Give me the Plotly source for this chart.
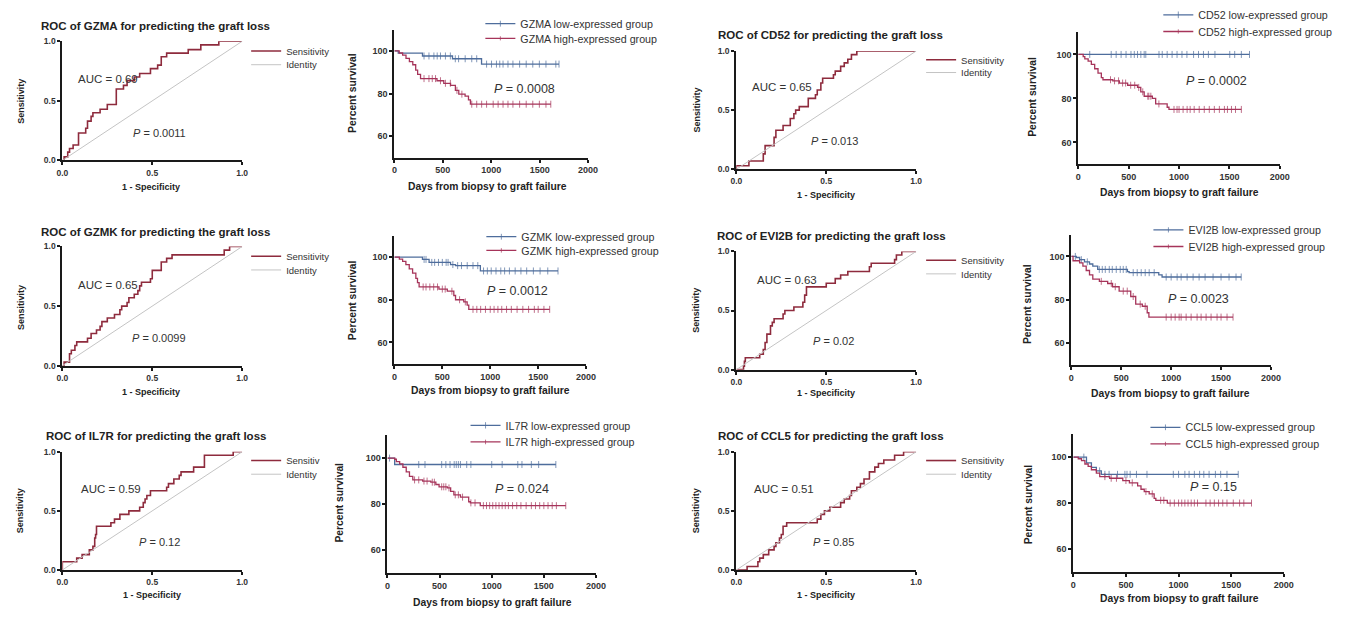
import numpy as np
import plotly.graph_objects as go

W, H = 1362, 618
FONT = "Arial, 'Liberation Sans', sans-serif"

genes = ["GZMA", "CD52", "GZMK", "EVI2B", "IL7R", "CCL5"]
auc_text = ["0.69", "0.65", "0.65", "0.63", "0.59", "0.51"]
roc_p_text = ["0.0011", "0.013", "0.0099", "0.02", "0.12", "0.85"]
km_p_text = ["0.0008", "0.0002", "0.0012", "0.0023", "0.024", "0.15"]
roc_legend_names = ["Sensitivity", "Sensitivity", "Sensitivity", "Sensitivity", "Sensitiv", "Sensitivity"]

# ---------------- ROC step curves (1 - specificity, sensitivity) ----------------
roc_fpr_GZMA = [0, 0.01, 0.03, 0.04, 0.06, 0.09, 0.13, 0.14, 0.16, 0.17, 0.21, 0.25, 0.30, 0.34, 0.36, 0.40, 0.43, 0.49, 0.53, 0.55, 0.58, 0.70, 0.77, 0.87, 1.0]
roc_tpr_GZMA = [0, 0.03, 0.07, 0.10, 0.13, 0.23, 0.27, 0.33, 0.37, 0.40, 0.43, 0.47, 0.60, 0.63, 0.67, 0.70, 0.73, 0.77, 0.80, 0.87, 0.90, 0.93, 0.97, 1.0, 1.0]

roc_fpr_CD52 = [0, 0.0, 0.07, 0.15, 0.16, 0.21, 0.22, 0.26, 0.30, 0.32, 0.33, 0.35, 0.40, 0.44, 0.45, 0.47, 0.48, 0.54, 0.55, 0.58, 0.60, 0.62, 0.64, 0.67, 1.0]
roc_tpr_CD52 = [0, 0.03, 0.07, 0.13, 0.20, 0.27, 0.33, 0.37, 0.43, 0.47, 0.50, 0.53, 0.60, 0.63, 0.67, 0.73, 0.77, 0.80, 0.83, 0.87, 0.90, 0.93, 0.97, 1.0, 1.0]

roc_fpr_GZMK = [0, 0.01, 0.04, 0.05, 0.07, 0.08, 0.14, 0.16, 0.19, 0.21, 0.22, 0.25, 0.29, 0.32, 0.33, 0.36, 0.37, 0.40, 0.42, 0.43, 0.44, 0.49, 0.50, 0.55, 0.58, 0.61, 0.90, 0.93, 1.0]
roc_tpr_GZMK = [0, 0.03, 0.10, 0.13, 0.17, 0.20, 0.23, 0.27, 0.30, 0.33, 0.37, 0.40, 0.43, 0.47, 0.50, 0.53, 0.57, 0.60, 0.63, 0.67, 0.70, 0.73, 0.80, 0.87, 0.90, 0.93, 0.97, 1.0, 1.0]

roc_fpr_EVI2B = [0, 0.04, 0.045, 0.05, 0.13, 0.15, 0.16, 0.17, 0.19, 0.20, 0.21, 0.26, 0.27, 0.32, 0.37, 0.38, 0.39, 0.50, 0.55, 0.58, 0.62, 0.74, 0.75, 0.88, 0.89, 0.92, 1.0]
roc_tpr_EVI2B = [0, 0.03, 0.07, 0.10, 0.13, 0.17, 0.23, 0.30, 0.37, 0.40, 0.43, 0.47, 0.50, 0.53, 0.57, 0.63, 0.70, 0.73, 0.77, 0.80, 0.83, 0.87, 0.90, 0.93, 0.97, 1.0, 1.0]

roc_fpr_IL7R = [0, 0.0, 0.08, 0.11, 0.15, 0.17, 0.18, 0.185, 0.19, 0.27, 0.29, 0.32, 0.37, 0.43, 0.45, 0.46, 0.47, 0.49, 0.58, 0.59, 0.62, 0.65, 0.66, 0.73, 0.79, 0.95, 1.0]
roc_tpr_IL7R = [0, 0.07, 0.10, 0.13, 0.17, 0.20, 0.27, 0.30, 0.37, 0.40, 0.43, 0.47, 0.50, 0.53, 0.57, 0.60, 0.63, 0.67, 0.70, 0.73, 0.77, 0.80, 0.83, 0.87, 0.97, 1.0, 1.0]

roc_fpr_CCL5 = [0, 0.06, 0.12, 0.13, 0.15, 0.18, 0.21, 0.22, 0.24, 0.25, 0.26, 0.28, 0.45, 0.47, 0.49, 0.52, 0.58, 0.60, 0.63, 0.64, 0.67, 0.69, 0.71, 0.74, 0.77, 0.79, 0.82, 0.88, 0.93, 1.0]
roc_tpr_CCL5 = [0, 0.03, 0.07, 0.10, 0.13, 0.17, 0.20, 0.23, 0.27, 0.30, 0.37, 0.40, 0.43, 0.47, 0.50, 0.53, 0.57, 0.60, 0.63, 0.67, 0.70, 0.73, 0.77, 0.83, 0.87, 0.90, 0.93, 0.97, 1.0, 1.0]

# ---------------- Kaplan-Meier: event times, survival after event, censor times ----------------
km_low_t_GZMA = [0, 40, 290, 600, 900]
km_low_s_GZMA = [100, 98.9, 97.6, 96.3, 93.8]
km_low_c_GZMA = [306, 357, 408, 442, 476, 527, 578, 629, 663, 731, 799, 850, 952, 1003, 1054, 1088, 1122, 1173, 1224, 1293, 1361, 1429, 1497, 1565, 1667, 1700]
km_high_t_GZMA = [0, 50, 85, 120, 155, 190, 220, 240, 270, 440, 510, 580, 630, 665, 730, 765, 785]
km_high_s_GZMA = [100, 99, 98, 96.5, 95, 93.5, 91, 89, 87, 86, 84.8, 83.8, 81.5, 79.7, 78.8, 77, 75]
km_high_c_GZMA = [306, 357, 391, 425, 476, 527, 578, 646, 697, 799, 850, 901, 952, 1020, 1071, 1122, 1173, 1224, 1293, 1361, 1429, 1497, 1565, 1615]

km_low_t_CD52 = [0]
km_low_s_CD52 = [100]
km_low_c_CD52 = [114, 327, 376, 425, 474, 523, 556, 588, 621, 654, 670, 801, 833, 882, 931, 980, 1029, 1078, 1144, 1193, 1242, 1291, 1356, 1503, 1552, 1618, 1699]
km_high_t_CD52 = [0, 49, 65, 98, 130, 163, 196, 229, 245, 343, 408, 490, 588, 620, 654, 735, 768, 882, 900]
km_high_s_CD52 = [100, 99, 98, 97, 95.5, 93.5, 91.5, 89.5, 88.5, 88, 87, 86, 85, 83, 81, 80, 77.5, 76, 75]
km_high_c_CD52 = [320, 360, 400, 440, 470, 520, 560, 600, 640, 690, 700, 720, 800, 950, 980, 1000, 1040, 1080, 1110, 1150, 1200, 1250, 1300, 1350, 1400, 1450, 1480, 1520, 1560, 1618]

km_low_t_GZMK = [0, 293, 362, 586, 638, 897]
km_low_s_GZMK = [100, 98.9, 97.5, 96.5, 96, 93.5]
km_low_c_GZMK = [310, 330, 390, 420, 460, 500, 540, 560, 610, 660, 700, 760, 820, 870, 930, 970, 1010, 1060, 1110, 1150, 1200, 1260, 1320, 1380, 1450, 1520, 1600, 1707]
km_high_t_GZMK = [0, 52, 86, 120, 155, 190, 224, 241, 258, 465, 552, 620, 638, 724, 759, 776]
km_high_s_GZMK = [100, 99, 98, 96.5, 94.5, 92.5, 90, 88, 86, 85, 84, 82, 80, 79, 77.5, 75.5]
km_high_c_GZMK = [300, 330, 370, 410, 450, 500, 530, 600, 680, 740, 820, 860, 900, 950, 1000, 1040, 1080, 1120, 1170, 1220, 1280, 1340, 1400, 1460, 1500, 1560, 1620]

km_low_t_EVI2B = [0, 50, 83, 132, 182, 215, 264, 562, 579, 876, 909]
km_low_s_EVI2B = [100, 99.5, 98.5, 97.5, 96.5, 95.5, 94, 93, 92.5, 91.5, 90.5]
km_low_c_EVI2B = [40, 100, 160, 280, 310, 340, 380, 410, 450, 490, 520, 550, 620, 660, 700, 740, 780, 830, 950, 1000, 1060, 1100, 1160, 1220, 1280, 1340, 1420, 1500, 1580, 1650, 1702]
km_high_t_EVI2B = [0, 17, 83, 116, 149, 182, 215, 281, 364, 413, 479, 595, 645, 711, 760, 777]
km_high_s_EVI2B = [100, 98, 97, 95.5, 93.5, 91.5, 89.5, 88.5, 87.5, 86, 84, 81.5, 78, 77, 74, 72]
km_high_c_EVI2B = [300, 400, 440, 520, 560, 620, 690, 740, 950, 1000, 1040, 1080, 1100, 1150, 1200, 1260, 1300, 1350, 1400, 1460, 1500, 1560, 1620]

km_low_t_IL7R = [0, 69]
km_low_s_IL7R = [100, 97.2]
km_low_c_IL7R = [20, 300, 360, 520, 560, 600, 640, 660, 680, 700, 760, 800, 1000, 1100, 1250, 1290, 1380, 1450, 1615]
km_high_t_IL7R = [0, 69, 85, 117, 148, 180, 211, 243, 338, 416, 464, 495, 574, 606, 637, 700, 779, 795, 890]
km_high_s_IL7R = [100, 99.5, 98.5, 97.5, 96, 94, 92, 90.5, 90, 89.5, 88.5, 87.5, 87, 85.5, 84, 83, 81, 80.5, 79.3]
km_high_c_IL7R = [260, 300, 350, 380, 430, 450, 520, 540, 560, 590, 650, 680, 720, 800, 840, 920, 950, 980, 1010, 1040, 1070, 1100, 1130, 1160, 1200, 1240, 1280, 1330, 1380, 1420, 1460, 1500, 1540, 1580, 1620, 1710]

km_low_t_CCL5 = [0, 125, 172, 219, 266]
km_low_s_CCL5 = [100, 97.5, 95.5, 94, 92.5]
km_low_c_CCL5 = [100, 250, 300, 340, 420, 490, 510, 540, 600, 700, 950, 1000, 1060, 1100, 1150, 1200, 1240, 1290, 1350, 1400, 1460, 1567]
km_high_t_CCL5 = [0, 47, 78, 110, 141, 172, 219, 251, 345, 470, 533, 611, 643, 674, 721, 768, 784, 893]
km_high_s_CCL5 = [100, 99.3, 98.5, 97, 96, 94.5, 93, 91.5, 90.8, 89.8, 88.8, 87.5, 86, 85, 84, 82, 81.2, 80]
km_high_c_CCL5 = [300, 360, 410, 500, 560, 690, 750, 830, 860, 920, 960, 1000, 1030, 1060, 1090, 1120, 1150, 1180, 1260, 1300, 1340, 1380, 1420, 1460, 1520, 1580, 1620, 1693]

roc_data = {
    "GZMA": (roc_fpr_GZMA, roc_tpr_GZMA), "CD52": (roc_fpr_CD52, roc_tpr_CD52),
    "GZMK": (roc_fpr_GZMK, roc_tpr_GZMK), "EVI2B": (roc_fpr_EVI2B, roc_tpr_EVI2B),
    "IL7R": (roc_fpr_IL7R, roc_tpr_IL7R), "CCL5": (roc_fpr_CCL5, roc_tpr_CCL5),
}
km_data = {
    "GZMA": ((km_low_t_GZMA, km_low_s_GZMA, km_low_c_GZMA), (km_high_t_GZMA, km_high_s_GZMA, km_high_c_GZMA)),
    "CD52": ((km_low_t_CD52, km_low_s_CD52, km_low_c_CD52), (km_high_t_CD52, km_high_s_CD52, km_high_c_CD52)),
    "GZMK": ((km_low_t_GZMK, km_low_s_GZMK, km_low_c_GZMK), (km_high_t_GZMK, km_high_s_GZMK, km_high_c_GZMK)),
    "EVI2B": ((km_low_t_EVI2B, km_low_s_EVI2B, km_low_c_EVI2B), (km_high_t_EVI2B, km_high_s_EVI2B, km_high_c_EVI2B)),
    "IL7R": ((km_low_t_IL7R, km_low_s_IL7R, km_low_c_IL7R), (km_high_t_IL7R, km_high_s_IL7R, km_high_c_IL7R)),
    "CCL5": ((km_low_t_CCL5, km_low_s_CCL5, km_low_c_CCL5), (km_high_t_CCL5, km_high_s_CCL5, km_high_c_CCL5)),
}

# ---------------- layout geometry (page pixels) ----------------
geom = {
    "GZMA": dict(roc=(57, 239, 33, 155), km=(393, 589, 21, 152),
                 title=(33, 17), rxt=(147, 182), ryt=(15, 94), kxt=(487, 182), kyt=(350, 86),
                 auc=(103, 72), rp=(155, 127), kp=(525, 82),
                 rleg=(285, 43, 57), kleg=(522, 15, 30)),
    "CD52": dict(roc=(739, 921, 43, 164), km=(1085, 1289, 24, 159),
                 title=(718, 27), rxt=(830, 190), ryt=(699, 103), kxt=(1187, 188), kyt=(1039, 90),
                 auc=(785, 80), rp=(838, 135), kp=(1225, 74),
                 rleg=(968, 52, 65), kleg=(1208, 6, 23)),
    "GZMK": dict(roc=(57, 239, 243, 365), km=(393, 587, 232, 363),
                 title=(33, 228), rxt=(147, 392), ryt=(15, 305), kxt=(490, 390), kyt=(350, 298),
                 auc=(103, 282), rp=(155, 337), kp=(518, 289),
                 rleg=(285, 253, 267), kleg=(523, 233, 247)),
    "EVI2B": dict(roc=(739, 921, 248, 369), km=(1078, 1280, 231, 364),
                  title=(717, 232), rxt=(830, 393), ryt=(698, 308), kxt=(1178, 393), kyt=(1033, 302),
                  auc=(790, 277), rp=(837, 340), kp=(1207, 297),
                  rleg=(968, 257, 271), kleg=(1198, 226, 243)),
    "IL7R": dict(roc=(57, 239, 453, 574), km=(386, 597, 436, 577),
                 title=(38, 437), rxt=(148, 600), ryt=(15, 513), kxt=(492, 607), kyt=(338, 505),
                 auc=(106, 491), rp=(155, 545), kp=(522, 491),
                 rleg=(285, 462, 476), kleg=(507, 426, 443)),
    "CCL5": dict(roc=(739, 921, 453, 574), km=(1080, 1293, 435, 576),
                 title=(718, 437), rxt=(830, 600), ryt=(699, 513), kxt=(1187, 603), kyt=(1035, 507),
                 auc=(787, 491), rp=(837, 545), kp=(1222, 489),
                 rleg=(968, 462, 476), kleg=(1195, 428, 445)),
}

ROC_COLOR = "#8e2b3d"
ID_COLOR = "#c4c4c4"
LOW_COLOR = "#4e6d9c"
HIGH_COLOR = "#a6345a"
TXT = "#2a2a2a"


def fx(px):
    return px / W


def fy(py):
    return 1 - py / H


def km_path(times, surv, cens):
    times = np.asarray(times, float)
    surv = np.asarray(surv, float)
    pts = [(t, s, 0) for t, s in zip(times, surv)]
    for c in cens:
        idx = np.searchsorted(times, c, side="right") - 1
        pts.append((float(c), float(surv[idx]), 1))
    pts.sort(key=lambda p: (p[0], p[2]))
    xs = [p[0] for p in pts]
    ys = [p[1] for p in pts]
    sz = [5 if p[2] else 0 for p in pts]
    return xs, ys, sz


fig = go.Figure()
layout = dict(
    width=W, height=H, margin=dict(l=0, r=0, t=0, b=0), showlegend=True,
    paper_bgcolor="white", plot_bgcolor="white",
    font=dict(family=FONT, color=TXT),
)
annotations = []

axis_common = dict(
    showgrid=False, zeroline=False, showline=True, linecolor="#1a1a1a", linewidth=2,
    ticks="outside", ticklen=3, tickwidth=1.5, tickcolor="#1a1a1a",
    tickfont=dict(family=FONT, size=8.5, color="#333", weight="bold"),
    fixedrange=True,
)


def legend_name(n):
    return "legend" if n == 1 else "legend%d" % n


def add_legend(n, text_x, y_center, size):
    layout[legend_name(n)] = dict(
        x=fx(text_x - 42), y=fy(y_center), xanchor="left", yanchor="middle", xref="paper", yref="paper",
        bgcolor="rgba(0,0,0,0)", font=dict(family=FONT, size=size, color="#333"),
        itemwidth=30, tracegroupgap=0, borderwidth=0, visible=True)


def add_text(text, pos, size, bold=False, angle=0, anchor="center"):
    tx, ty = pos
    annotations.append(dict(text=text, x=fx(tx), y=fy(ty), xref="paper", yref="paper",
                            xanchor=anchor, yanchor="middle", textangle=angle, showarrow=False,
                            font=dict(family=FONT, size=size, color="#222" if bold else "#333",
                                      weight="bold" if bold else "normal")))


for gi, g in enumerate(genes):
    G = geom[g]
    ra = 2 * gi + 1
    ka = 2 * gi + 2
    rsuf = "" if ra == 1 else str(ra)
    ksuf = str(ka)
    l0 = 4 * gi

    # ROC panel
    fpr, tpr = roc_data[g]
    fig.add_trace(go.Scatter(x=fpr, y=tpr, mode="lines", line=dict(color=ROC_COLOR, width=1.6, shape="hv"),
                             name=roc_legend_names[gi], xaxis="x" + rsuf, yaxis="y" + rsuf,
                             legend=legend_name(l0 + 1), showlegend=True, hoverinfo="skip"))
    fig.add_trace(go.Scatter(x=[0, 1], y=[0, 1], mode="lines", line=dict(color=ID_COLOR, width=1),
                             name="Identity", xaxis="x" + rsuf, yaxis="y" + rsuf,
                             legend=legend_name(l0 + 2), showlegend=True, hoverinfo="skip"))
    x0, x1, yt, yb = G["roc"]
    layout["xaxis" + rsuf] = dict(axis_common, domain=[fx(x0), fx(x1)], range=[0, 1], anchor="y" + rsuf,
                                  tickvals=[0, 0.5, 1.0], ticktext=["0.0", "0.5", "1.0"])
    layout["yaxis" + rsuf] = dict(axis_common, domain=[fy(yb), fy(yt)], range=[0, 1], anchor="x" + rsuf,
                                  tickvals=[0, 0.5, 1.0], ticktext=["0.0", "0.5", "1.0"])

    # KM panel
    (lt, ls, lc), (ht, hs, hc) = km_data[g]
    for k, ((t, s, c), col, lab) in enumerate((((lt, ls, lc), LOW_COLOR, "low"),
                                               ((ht, hs, hc), HIGH_COLOR, "high"))):
        xs, ys, sz = km_path(t, s, c)
        fig.add_trace(go.Scatter(x=xs, y=ys, mode="lines+markers",
                                 line=dict(color=col, width=1.3, shape="hv"),
                                 marker=dict(symbol="line-ns", size=sz, line=dict(color=col, width=1)),
                                 name="%s %s-expressed group" % (g, lab),
                                 xaxis="x" + ksuf, yaxis="y" + ksuf, legend=legend_name(l0 + 3 + k),
                                 showlegend=True, hoverinfo="skip"))
    x0, x1, yt, yb = G["km"]
    kfont = dict(family=FONT, size=9, color="#333", weight="bold")
    layout["xaxis" + ksuf] = dict(axis_common, domain=[fx(x0), fx(x1)], range=[0, 2000], anchor="y" + ksuf,
                                  tickvals=[0, 500, 1000, 1500, 2000], tickfont=kfont)
    layout["yaxis" + ksuf] = dict(axis_common, domain=[fy(yb), fy(yt)], range=[50, 110], anchor="x" + ksuf,
                                  tickvals=[60, 80, 100], tickfont=kfont)

    # legends (one entry each, positioned independently)
    lx, y1, y2 = G["rleg"]
    add_legend(l0 + 1, lx, y1, 9.5)
    add_legend(l0 + 2, lx, y2, 9.5)
    lx, y1, y2 = G["kleg"]
    add_legend(l0 + 3, lx, y1, 10.7)
    add_legend(l0 + 4, lx, y2, 10.7)

    # texts
    add_text("ROC of %s for predicting the graft loss" % g, G["title"], 11.5, bold=True, anchor="left")
    add_text("1 - Specificity", G["rxt"], 9, bold=True)
    add_text("Sensitivity", G["ryt"], 9, bold=True, angle=-90)
    add_text("Days from biopsy to graft failure", G["kxt"], 10.3, bold=True)
    add_text("Percent survival", G["kyt"], 10.3, bold=True, angle=-90)
    add_text("AUC = " + auc_text[gi], G["auc"], 11.5)
    add_text("<i>P</i> = " + roc_p_text[gi], G["rp"], 11)
    add_text("<i>P</i> = " + km_p_text[gi], G["kp"], 12.5)

layout["annotations"] = annotations
fig.update_layout(**layout)
fig.write_html("out.html", post_script="document.body.style.margin='0px';")
